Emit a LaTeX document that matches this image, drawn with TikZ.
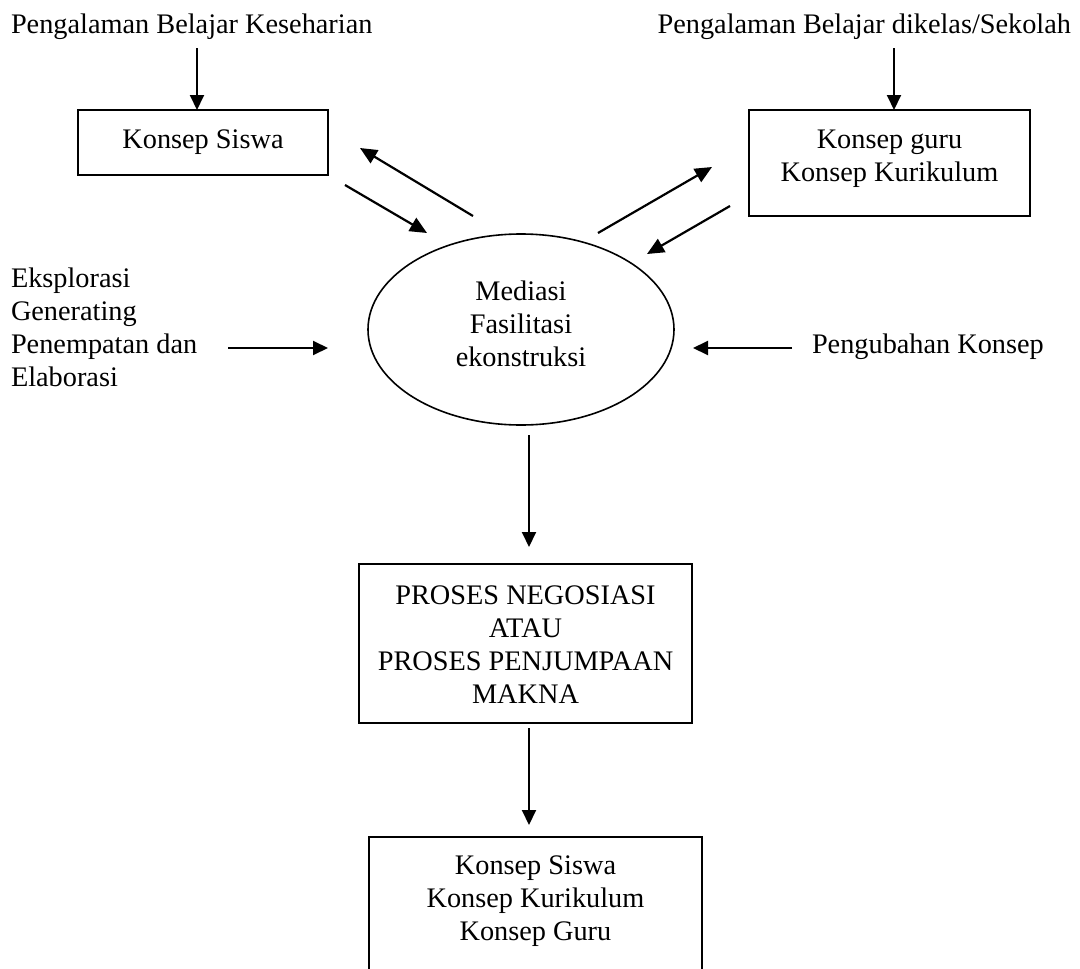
\documentclass[tikz,border=0pt]{standalone}
\usepackage{fontspec}
\setmainfont{Liberation Serif}
\usetikzlibrary{arrows.meta,shapes.geometric}
\begin{document}
\begin{tikzpicture}[x=1pt,y=-1pt,
  every node/.style={font=\fontsize{28.3}{33}\selectfont, inner sep=0pt, outer sep=0pt},
  boxshape/.style={draw, line width=2pt, minimum width=#1, inner sep=0pt},
  txt/.style={align=center},
  ltxt/.style={anchor=base west},
  arr/.style={line width=2pt, -{Triangle[length=15pt,width=14pt]}},
  darr/.style={line width=2.2pt, -{Triangle[length=17pt,width=15pt]}}
]
\useasboundingbox (0,0) rectangle (1080,969);

% top texts
\node[ltxt] (t1) at (11,33) {Pengalaman Belajar Keseharian};
\node[anchor=base east] (t2) at (1071,33) {Pengalaman Belajar dikelas/Sekolah};

% boxes
\node[boxshape=250pt, minimum height=65pt] (siswa) at (203,142.5) {};
\node[txt] (siswaT) at (203,142.5) {Konsep Siswa};

\node[boxshape=281pt, minimum height=106pt] (guru) at (889.5,163) {};
\node[txt] (guruT) at (889.5,159) {Konsep guru\\Konsep Kurikulum};

% ellipse
\node[draw, ellipse, line width=1.6pt, minimum width=306pt, minimum height=191pt] (med) at (521,329.5) {};
\node[txt] (medT) at (521,324) {Mediasi\\Fasilitasi\\ekonstruksi};

% left and right texts
\node[ltxt] (l1) at (11,287) {Eksplorasi};
\node[ltxt] (l2) at (11,320) {Generating};
\node[ltxt] (l3) at (11,353) {Penempatan dan};
\node[ltxt] (l4) at (11,386) {Elaborasi};
\node[ltxt] (r1) at (812,353) {Pengubahan Konsep};

% proses box
\node[boxshape=333pt, minimum height=159pt] (proses) at (525.5,643.5) {};
\node[txt] (prosesT) at (525.5,645) {PROSES NEGOSIASI\\ATAU\\PROSES PENJUMPAAN\\MAKNA};

% bottom open box
\coordinate (hbl) at (369,975);
\coordinate (htl) at (369,837);
\coordinate (htr) at (702,837);
\coordinate (hbr) at (702,975);
\draw[line width=2pt] (hbl) -- (htl) -- (htr) -- (hbr);
\node[txt] (hasilT) at (535.5,901) {Konsep Siswa\\Konsep Kurikulum\\Konsep Guru};

% arrow coordinates
\coordinate (a1s) at (197,48);
\coordinate (a2s) at (894,48);
\coordinate (d1s) at (473,216);
\coordinate (d1e) at (360,148);
\coordinate (d2s) at (345,185);
\coordinate (d2e) at (427,233);
\coordinate (d3s) at (598,233);
\coordinate (d3e) at (712,167);
\coordinate (d4s) at (730,206);
\coordinate (d4e) at (647,254);
\coordinate (hls) at (228,348);
\coordinate (hle) at (328,348);
\coordinate (hrs) at (792,348);
\coordinate (hre) at (693,348);
\coordinate (v1s) at (529,435);
\coordinate (v1e) at (529,547);
\coordinate (v2s) at (529,728);
\coordinate (v2e) at (529,825);

\draw[arr] (a1s) -- (a1s |- siswa.north);
\draw[arr] (a2s) -- (a2s |- guru.north);
\draw[darr] (d1s) -- (d1e);
\draw[darr] (d2s) -- (d2e);
\draw[darr] (d3s) -- (d3e);
\draw[darr] (d4s) -- (d4e);
\draw[arr] (hls) -- (hle);
\draw[arr] (hrs) -- (hre);
\draw[arr] (v1s) -- (v1e);
\draw[arr] (v2s) -- (v2e);
\end{tikzpicture}
\end{document}
